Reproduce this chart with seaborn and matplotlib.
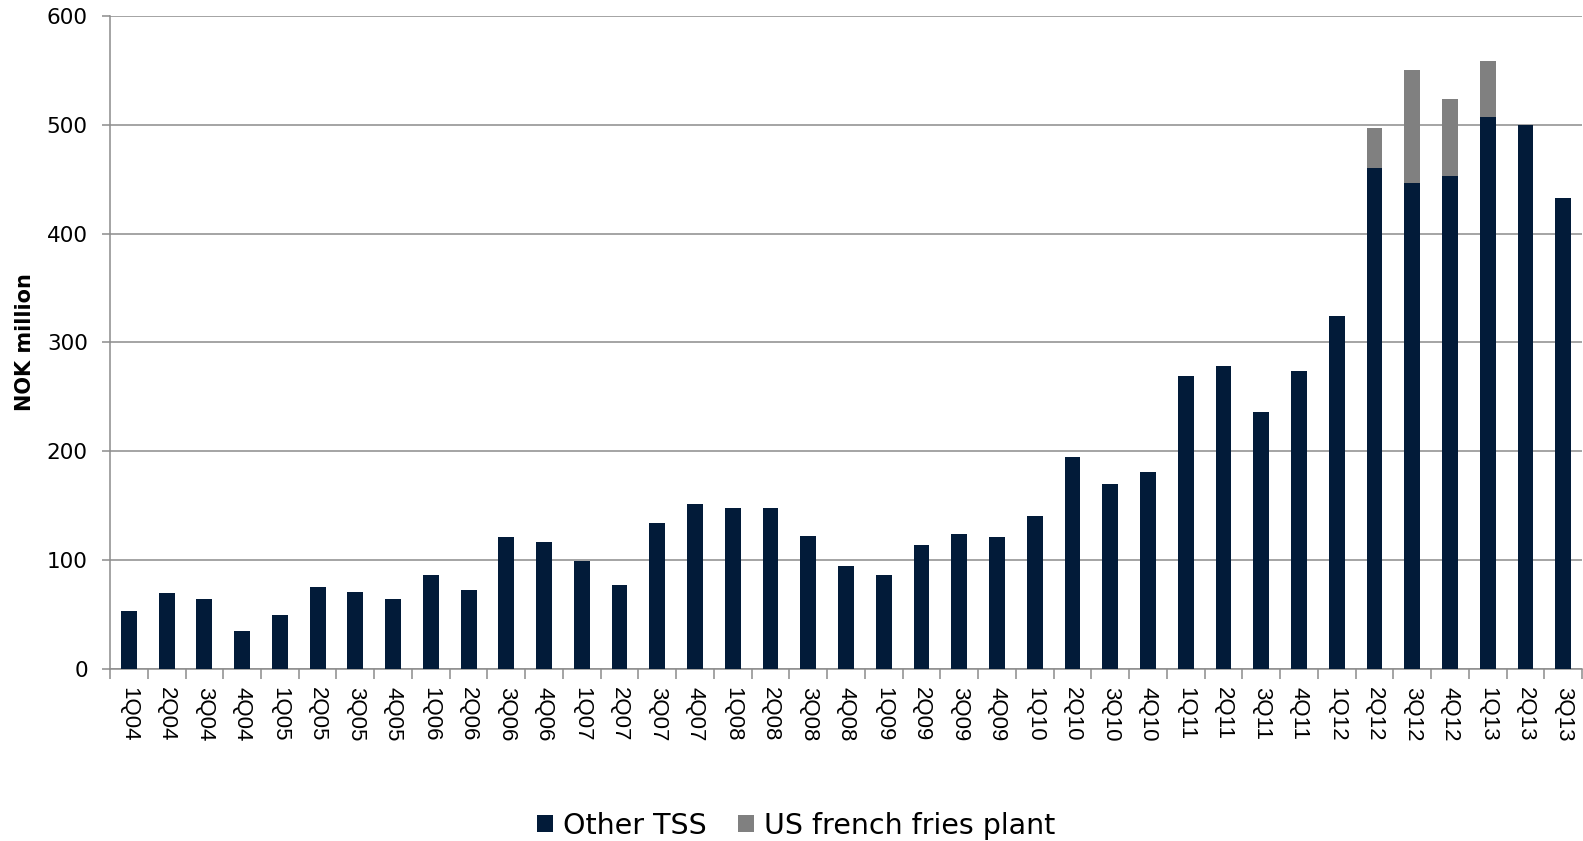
import matplotlib
matplotlib.use("Agg")
import matplotlib.pyplot as plt
from matplotlib.patches import Patch
from matplotlib.ticker import MultipleLocator, FixedLocator
import numpy as np
import pandas as pd
import seaborn as sns

# Quarterly capex, NOK million
quarters = [
    "1Q04", "2Q04", "3Q04", "4Q04",
    "1Q05", "2Q05", "3Q05", "4Q05",
    "1Q06", "2Q06", "3Q06", "4Q06",
    "1Q07", "2Q07", "3Q07", "4Q07",
    "1Q08", "2Q08", "3Q08", "4Q08",
    "1Q09", "2Q09", "3Q09", "4Q09",
    "1Q10", "2Q10", "3Q10", "4Q10",
    "1Q11", "2Q11", "3Q11", "4Q11",
    "1Q12", "2Q12", "3Q12", "4Q12",
    "1Q13", "2Q13", "3Q13",
]
other_tss = [
    53, 70, 64, 35,
    50, 75, 71, 64,
    86, 73, 121, 117,
    99, 77, 134, 152,
    148, 148, 122, 95,
    86, 114, 124, 121,
    141, 195, 170, 181,
    269, 278, 236, 274,
    324, 460, 447, 453,
    507, 500, 433,
]
us_fries_plant = [
    0, 0, 0, 0,
    0, 0, 0, 0,
    0, 0, 0, 0,
    0, 0, 0, 0,
    0, 0, 0, 0,
    0, 0, 0, 0,
    0, 0, 0, 0,
    0, 0, 0, 0,
    0, 37, 103, 71,
    52, 0, 0,
]
series_names = ["Other TSS", "US french fries plant"]

df = pd.DataFrame({
    "quarter": quarters,
    "other": other_tss,
    "fries": us_fries_plant,
})
df["total"] = df["other"] + df["fries"]

NAVY = "#021b39"
GREY = "#808080"
GRID = "#8c8c8c"

sns.set_theme(style="white")
plt.rcParams["font.family"] = ["DejaVu Sans"]
plt.rcParams["text.color"] = "black"
plt.rcParams["axes.labelcolor"] = "black"

fig = plt.figure(figsize=(15.83, 8.41), dpi=100)
ax = fig.add_axes([0.0695, 0.2045, 0.9299, 0.7765])

# Stacked bars: full height in grey, the base segment in navy on top of it
sns.barplot(data=df, x="quarter", y="total", color=GREY, saturation=1,
            width=0.42, ax=ax, zorder=3, linewidth=0)
sns.barplot(data=df, x="quarter", y="other", color=NAVY, saturation=1,
            width=0.42, ax=ax, zorder=4, linewidth=0)

ax.set_xlim(-0.5, len(quarters) - 0.5)
ax.set_ylim(0, 600)
ax.yaxis.set_major_locator(MultipleLocator(100))
ax.grid(axis="y", color=GRID, linewidth=1.1, zorder=0)
ax.grid(axis="x", visible=False)

for side in ("top", "right"):
    ax.spines[side].set_visible(False)
for side in ("left", "bottom"):
    ax.spines[side].set_color(GRID)
    ax.spines[side].set_linewidth(1.1)

ax.set_xlabel("")
ax.set_ylabel("NOK million", fontsize=15, fontweight="bold", color="black")
ax.yaxis.set_label_coords(-0.051, 0.5)

ax.tick_params(axis="y", which="major", length=6, width=1.1, color=GRID,
               direction="out", left=True, labelsize=15.5, pad=10,
               labelcolor="black")
ax.tick_params(axis="x", which="major", length=0, pad=13, labelsize=16,
               labelcolor="black")
ax.set_xticks(range(len(quarters)))
ax.set_xticklabels(quarters, rotation=-90, family=["Liberation Sans", "DejaVu Sans"])
ax.xaxis.set_minor_locator(FixedLocator(np.arange(-0.5, len(quarters), 1.0)))
ax.tick_params(axis="x", which="minor", length=7, width=1.1, color=GRID,
               direction="out", bottom=True)

handles = [Patch(facecolor=NAVY, edgecolor="none"),
           Patch(facecolor=GREY, edgecolor="none")]
fig.legend(handles, series_names, loc="center", bbox_to_anchor=(0.503, 0.018),
           ncol=2, frameon=False, fontsize=20.5, handlelength=0.55,
           handleheight=0.55, handletextpad=0.35, columnspacing=1.1,
           labelcolor="black")

fig.savefig("out.png", dpi=100)
